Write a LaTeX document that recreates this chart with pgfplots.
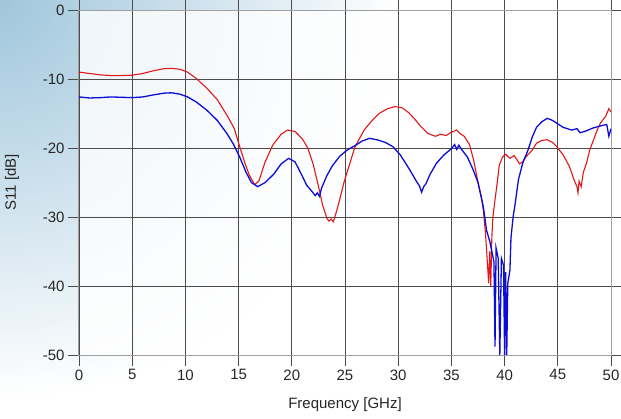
\documentclass[border=0pt]{standalone}
\usepackage{pgfplots}
\pgfplotsset{compat=1.18}
\usepackage{fontspec}
\setmainfont{Liberation Sans}
\definecolor{sred}{RGB}{226,24,24}
\definecolor{sblue}{RGB}{12,12,215}
\definecolor{bgblue}{RGB}{160,198,220}
\begin{document}
\begin{tikzpicture}
\useasboundingbox (0,0) rectangle (621pt,418pt);
\begin{scope}
  \clip (0,0) rectangle (621pt,418pt);
  \fill[white] (0,0) rectangle (621pt,418pt);
  \shade[inner color=bgblue, outer color=white] (0,418pt) circle (400pt);
\end{scope}
\begin{axis}[
  at={(79pt,63pt)}, anchor=south west,
  scale only axis, width=532pt, height=345pt,
  xmin=0, xmax=50, ymin=-50, ymax=0,
  axis background/.style={fill=white, fill opacity=0.8},
  xtick={0,5,...,50}, ytick={-50,-40,...,0},
  grid=major,
  grid style={black!70, line width=0.7pt},
  axis line style={gray!75, line width=1pt},
  tick align=outside, major tick length=11pt,
  tick style={black!70, line width=0.7pt},
  /pgf/number format/assume math mode=true,
  ticklabel style={font=\fontsize{15}{18}\selectfont, text=black!85},
  xlabel={Frequency [GHz]}, ylabel={S11 [dB]},
  label style={font=\fontsize{15}{18}\selectfont, text=black!85},
  xlabel style={at={(axis description cs:0.5,-0.145)}, anchor=center},
  ylabel style={at={(axis description cs:-0.126,0.5)}, anchor=center},
]
\addplot[sred, line width=1.1pt] coordinates {
(0,-9.0) (1,-9.2) (2,-9.4) (3,-9.5) (4,-9.5) (5,-9.45) (6,-9.2) (7,-8.8)
(8,-8.5) (8.7,-8.45) (9.5,-8.6) (10.2,-9.0) (11,-9.9) (12,-11.3) (13,-13.0)
(14,-15.5) (14.6,-17.2) (15.1,-19.8) (15.6,-22.2) (16.0,-23.9) (16.5,-25.3)
(16.9,-24.8) (17.5,-22.0) (18.2,-19.6) (19,-18.0) (19.6,-17.4) (20.3,-17.6)
(21.0,-18.7) (21.5,-20.0) (22.0,-22.3) (22.5,-25.5) (22.9,-28.3) (23.3,-30.2)
(23.5,-30.6) (23.7,-30.3) (23.9,-30.7) (24.2,-29.2) (24.5,-27.5) (24.9,-25.0)
(25.3,-23.0) (25.9,-20.0) (26.3,-18.8) (26.8,-17.4) (27.5,-16.1) (28.2,-15.0)
(29.0,-14.3) (29.7,-14.0) (30.4,-14.2) (31.0,-14.9) (31.6,-15.9) (32.2,-17.0)
(32.8,-17.9) (33.5,-18.3) (34.0,-18.0) (34.5,-18.2) (35.0,-17.7) (35.5,-17.4)
(35.8,-17.9) (36.2,-18.3) (36.7,-19.5) (37.1,-21.8) (37.5,-25.0) (37.8,-27.0)
(38.0,-29.0) (38.2,-32.3) (38.4,-37.0) (38.5,-39.6) (38.6,-35) (38.7,-40.0)
(38.8,-33) (38.9,-30) (39.1,-27.5) (39.3,-25.1) (39.5,-22.5) (39.8,-21.3)
(40.1,-20.9) (40.5,-21.5) (40.9,-21.1) (41.2,-21.8) (41.4,-22.3) (41.7,-22.0)
(42.0,-21.3) (42.6,-20.3) (43.0,-19.3) (43.5,-18.9) (44.0,-18.8) (44.5,-19.2)
(44.9,-19.8) (45.5,-21.0) (46.1,-22.7) (46.5,-24.5) (46.8,-25.6) (46.9,-26.5)
(47.0,-24.8) (47.2,-25.6) (47.4,-23.5) (47.7,-22.2) (48.0,-20.3) (48.7,-17.4)
(49.0,-16.4) (49.5,-15.4) (49.8,-14.3) (50,-14.8)
};
\addplot[sblue, line width=1.3pt] coordinates {
(0,-12.6) (1,-12.75) (2,-12.7) (3,-12.6) (4,-12.65) (5,-12.7) (6,-12.6)
(7,-12.3) (8,-12.05) (8.7,-12.0) (9.5,-12.2) (10.2,-12.6) (11,-13.3)
(12,-14.5) (13,-16.0) (13.9,-17.9) (14.5,-19.4) (15.1,-21.3) (15.7,-23.5)
(16.2,-25.0) (16.8,-25.6) (17.5,-25.0) (18.3,-23.8) (19.0,-22.3) (19.7,-21.5)
(20.3,-22.0) (20.9,-23.8) (21.4,-25.4) (21.9,-26.3) (22.2,-26.9) (22.4,-26.5)
(22.6,-27.0) (22.8,-25.8) (23.3,-24.0) (23.8,-22.6) (24.5,-21.2) (25.2,-20.3)
(26.0,-19.6) (26.6,-19.0) (27.3,-18.6) (28.0,-18.8) (28.8,-19.2) (29.5,-19.8)
(30.2,-21.0) (31.1,-23.2) (31.7,-24.8) (32.0,-25.5) (32.2,-26.4) (32.4,-25.6)
(32.6,-25.2) (33.0,-23.8) (33.6,-22.2) (34.3,-21.0) (35.0,-20.1) (35.3,-19.5)
(35.5,-20.2) (35.7,-19.6) (36.0,-20.3) (36.5,-21.3) (37.0,-23.0) (37.5,-25.0)
(38.0,-28.5) (38.3,-31.9) (38.6,-33.5) (38.8,-35.0) (39.0,-36.5) (39.1,-48.8)
(39.2,-34.5) (39.4,-36) (39.55,-50) (39.7,-36) (39.9,-37) (40.0,-50)
(40.1,-38) (40.2,-50) (40.3,-39.6) (40.5,-37.7) (40.6,-33) (40.8,-30)
(41.0,-28) (41.3,-24.6) (41.7,-22.2) (42.2,-20.3) (42.6,-18.4) (43.0,-17.0)
(43.5,-16.2) (44.0,-15.7) (44.5,-16.0) (45.0,-16.5) (45.5,-17.0) (46.3,-17.4)
(46.8,-17.2) (47.1,-17.8) (47.7,-17.5) (48.3,-17.1) (49.0,-16.8) (49.6,-16.6)
(49.8,-18.3) (50,-17.2)
};
\end{axis}
\end{tikzpicture}
\end{document}
